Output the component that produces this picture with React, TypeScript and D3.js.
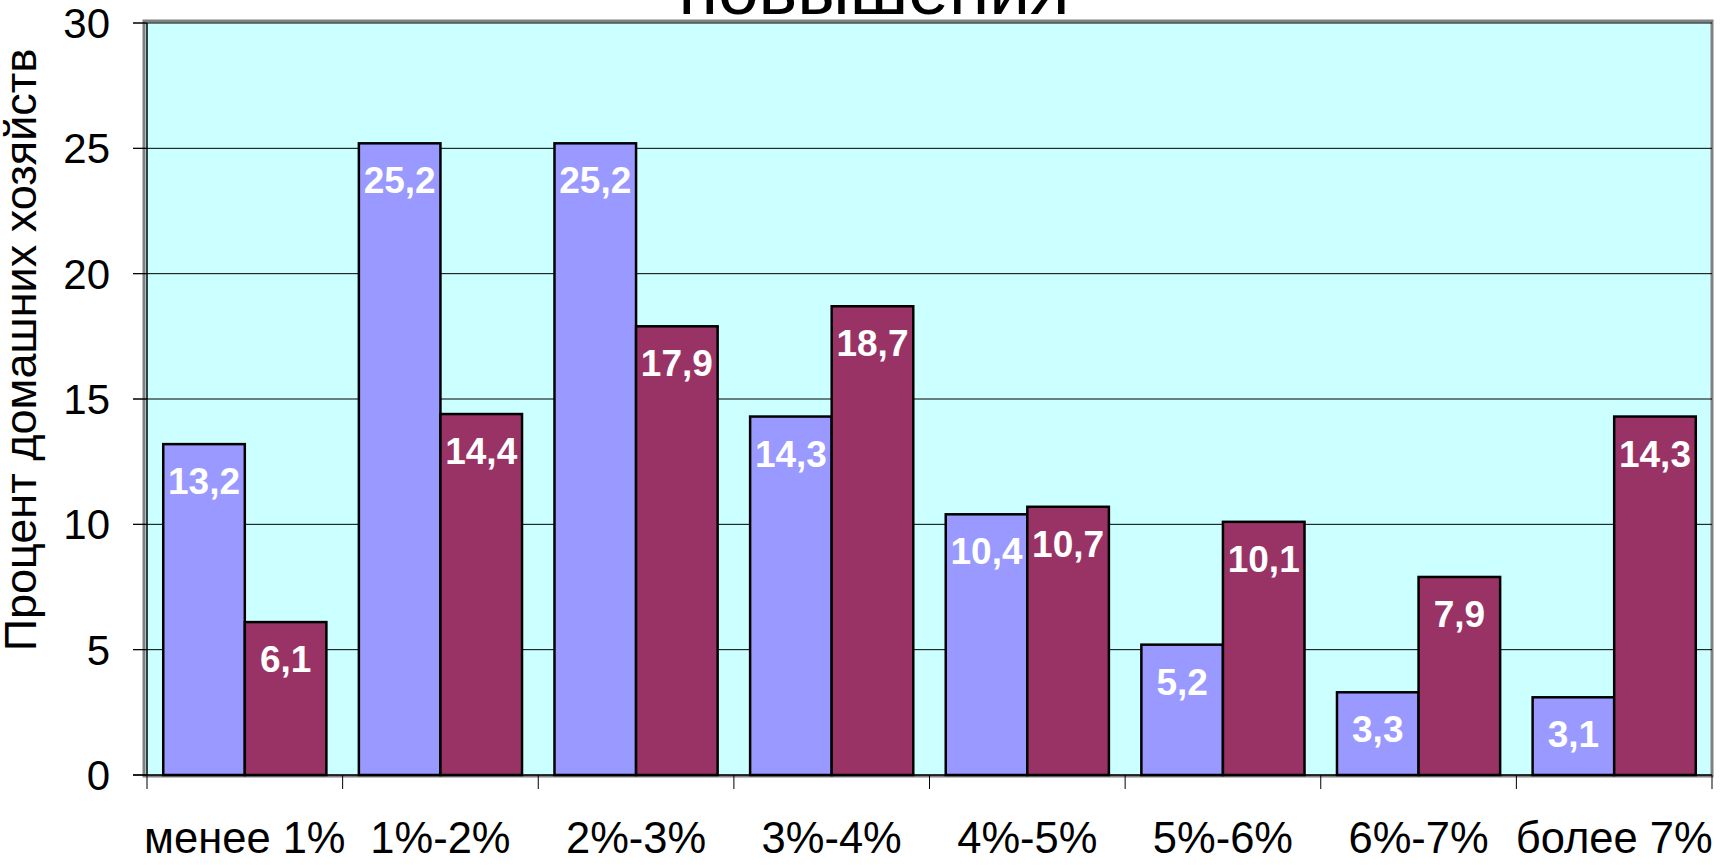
import React from "react";
import * as d3 from "d3";

const categories = ["менее 1%", "1%-2%", "2%-3%", "3%-4%", "4%-5%", "5%-6%", "6%-7%", "более 7%"];
const seriesA = [13.2, 25.2, 25.2, 14.3, 10.4, 5.2, 3.3, 3.1];
const seriesB = [6.1, 14.4, 17.9, 18.7, 10.7, 10.1, 7.9, 14.3];
const yTicks = [0, 5, 10, 15, 20, 25, 30];
const titleText = "повышения";
const yTitle = "Процент домашних хозяйств";

const W = 1729;
const H = 865;
const FONT = "'Liberation Sans', Arial, sans-serif";

export default function App() {
  const x0 = 147, x1 = 1712;
  const yTop = 23, yBot = 775;
  const x = d3.scaleBand<string>().domain(categories).range([x0, x1]).paddingInner(0).paddingOuter(0);
  const y = d3.scaleLinear().domain([0, 30]).range([yBot, yTop]);
  const bw = x.bandwidth();
  const barW = bw * 0.417;
  const off = (bw - 2 * barW) / 2;
  const fmt = (v: number) => v.toFixed(1).replace(".", ",");
  const series = [
    { values: seriesA, color: "#9999FF", idx: 0 },
    { values: seriesB, color: "#993366", idx: 1 },
  ];
  return (
    <svg width={W} height={H} style={{ position: "absolute", left: 0, top: 0, background: "#fff" }} fontFamily={FONT}>
      {/* plot area */}
      <rect x={144} y={21} width={1712 - 144} height={776 - 21} fill="#CCFFFF" stroke="#808080" strokeWidth={3} />
      {/* gridlines */}
      {yTicks.filter((t) => t > 0).map((t) => (
        <line key={"g" + t} x1={x0 - 14} x2={x1} y1={y(t)} y2={y(t)} stroke="#000" strokeWidth={1} />
      ))}
      {/* bars */}
      {series.map((s) =>
        s.values.map((v, i) => {
          const bx = (x(categories[i]) as number) + off + s.idx * barW;
          return (
            <rect key={s.idx + "-" + i} x={bx} y={y(v)} width={barW} height={yBot - y(v)} fill={s.color} stroke="#000" strokeWidth={2.5} />
          );
        })
      )}
      {/* data labels */}
      {series.map((s) =>
        s.values.map((v, i) => {
          const bx = (x(categories[i]) as number) + off + s.idx * barW;
          return (
            <text key={"l" + s.idx + "-" + i} x={bx + barW / 2} y={y(v) + 50} textAnchor="middle" fill="#fff" fontWeight="bold" fontSize={37}>
              {fmt(v)}
            </text>
          );
        })
      )}
      {/* axes */}
      <line x1={x0} x2={x0} y1={yTop} y2={yBot} stroke="#000" strokeWidth={1.5} />
      <line x1={x0 - 14} x2={x1} y1={yBot} y2={yBot} stroke="#000" strokeWidth={1.5} />
      {yTicks.map((t) => (
        <g key={"t" + t}>
          <line x1={x0 - 14} x2={x0} y1={y(t)} y2={y(t)} stroke="#000" strokeWidth={1} />
          <text x={110} y={y(t)} dy="0.36em" textAnchor="end" fontSize={42}>{t}</text>
        </g>
      ))}
      {d3.range(categories.length + 1).map((i) => {
        const tx = x0 + i * bw;
        return <line key={"xt" + i} x1={tx} x2={tx} y1={yBot} y2={yBot + 14} stroke="#000" strokeWidth={1} />;
      })}
      {categories.map((c) => (
        <text key={c} x={(x(c) as number) + bw / 2} y={853} textAnchor="middle" fontSize={43.5}>{c}</text>
      ))}
      <text transform={`translate(36,350) rotate(-90)`} textAnchor="middle" fontSize={45}>{yTitle}</text>
      <text x={874} y={14} textAnchor="middle" fontSize={73}>{titleText}</text>
    </svg>
  );
}
